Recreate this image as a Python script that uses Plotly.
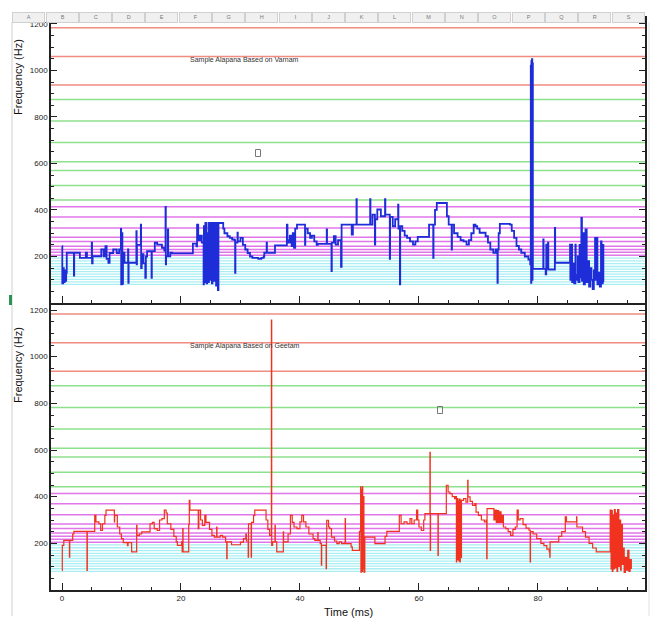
import plotly.graph_objects as go

# ---------------- data ----------------
# Reference (swara) frequency lines in Hz, grouped by colour band
red_lines = [1183, 1060, 937]
green_lines = [875, 782, 690, 607, 570, 505, 443]
magenta_lines = [414, 370, 322, 283, 264, 244, 230, 218, 205]
cyan_lines = [193, 181, 169, 157, 146, 135, 124, 113, 102, 91, 80]

# Varnam-based alapana (top, blue): time (ms) and pitch (Hz)
varnam_t = [0.0, 0.05, 0.2, 0.3, 0.45, 0.55, 0.7, 0.8, 2.0, 2.05, 3.0, 4.0, 4.2, 5.0, 5.05, 5.15,
            6.0, 6.6, 7.0, 7.3, 7.5, 7.8, 8.0, 8.6, 9.2, 9.6, 9.9, 9.95, 10.05, 10.15, 10.25, 10.5,
            11.1, 11.15, 11.2, 12.0, 12.5, 12.55, 12.6, 13.25, 13.3, 13.4, 13.7, 14.0, 14.1, 14.3,
            15.05, 15.1, 15.6, 16.0, 16.8, 17.2, 17.4, 17.45, 17.5, 17.8, 17.85, 18.2, 18.5, 21.5,
            22.0, 22.6, 22.7, 22.9, 23.2, 23.5, 23.8, 23.85, 24.0, 24.1, 24.3, 24.4, 24.6, 24.7,
            24.9, 25.0, 25.2, 25.3, 25.5, 25.6, 25.9, 26.0, 26.2, 26.3, 27.1, 27.3, 27.8, 28.2,
            28.6, 29.0, 29.1, 29.15, 29.5, 29.55, 30.0, 30.4, 30.8, 31.2, 31.6, 32.0, 33.0, 33.5,
            33.9, 34.0, 34.4, 34.45, 35.8, 37.8, 37.9, 38.1, 38.3, 38.6, 38.8, 39.0, 39.2, 39.5,
            40.8, 40.85, 40.9, 41.3, 41.7, 42.0, 42.4, 42.8, 43.0, 44.0, 44.5, 44.55, 45.3, 45.35,
            45.7, 46.0, 46.4, 46.9, 47.0, 48.7, 48.9, 49.5, 49.55, 51.8, 51.85, 52.2, 52.6, 52.65,
            53.0, 53.6, 54.3, 54.35, 55.1, 55.15, 55.6, 56.0, 56.5, 56.55, 56.8, 56.85, 57.2, 57.6,
            58.0, 58.5, 59.0, 59.4, 59.8, 61.6, 61.7, 62.4, 62.45, 62.7, 63.0, 64.4, 64.7, 65.0,
            65.5, 65.55, 65.9, 66.5, 67.0, 67.5, 68.0, 68.4, 68.8, 69.2, 69.5, 69.8, 70.2, 70.8,
            71.2, 71.6, 72.0, 72.5, 72.9, 73.2, 73.25, 73.4, 73.6, 75.3, 75.6, 76.0, 76.4, 76.8,
            77.2, 77.8, 78.4, 78.7, 78.8, 78.85, 78.9, 78.95, 79.0, 79.05, 79.1, 79.15, 79.3, 80.9,
            80.95, 81.3, 81.4, 81.45, 81.7, 81.75, 82.0, 82.8, 82.85, 82.9, 85.4, 85.45, 85.7, 85.75,
            86.0, 86.1, 86.3, 86.35, 86.6, 86.7, 86.8, 87.0, 87.2, 87.3, 87.4, 87.6, 87.7, 87.9,
            88.0, 88.2, 88.4, 88.6, 88.8, 89.0, 89.2, 89.4, 89.6, 89.7, 89.9, 90.0, 90.2, 90.4,
            90.6, 90.7, 90.9, 91.0]
varnam_f = [244, 85, 150, 90, 140, 95, 130, 216, 118, 216, 194, 216, 194, 259, 170, 201,
            201, 230, 201, 244, 190, 173, 215, 230, 215, 230, 319, 80, 300, 82, 216, 173,
            230, 87, 173, 173, 309, 166, 250, 337, 150, 210, 170, 108, 200, 223,
            108, 223, 259, 251, 237, 225, 413, 166, 201, 316, 201, 216, 213, 213,
            255, 244, 337, 270, 290, 260, 80, 330, 90, 344, 85, 300, 90, 344,
            100, 344, 85, 344, 95, 344, 75, 344, 55, 344, 320, 300, 287, 280,
            273, 270, 130, 260, 302, 265, 280, 250, 230, 215, 200, 194, 190, 194,
            200, 216, 259, 216, 248, 337, 270, 260, 290, 245, 300, 237, 320, 337,
            337, 250, 320, 300, 280, 290, 265, 250, 254, 254, 316, 254, 137, 260,
            287, 251, 270, 155, 337, 294, 337, 447, 337, 447, 337, 380, 251, 360,
            402, 373, 447, 380, 190, 370, 330, 360, 423, 320, 80, 330, 310, 290,
            280, 265, 251, 265, 284, 284, 337, 194, 337, 400, 430, 430, 373, 337,
            230, 337, 300, 284, 270, 265, 251, 270, 300, 337, 330, 320, 302, 302,
            287, 260, 230, 216, 230, 87, 230, 300, 340, 337, 310, 280, 245, 230,
            216, 200, 187, 166, 1020, 87, 1040, 150, 1048, 100, 1030, 147, 147, 273,
            147, 123, 251, 147, 260, 144, 144, 144, 323, 173, 251, 100, 251, 90,
            170, 85, 251, 120, 100, 200, 90, 250, 110, 366, 95, 300, 80, 200,
            316, 90, 180, 70, 150, 100, 60, 140, 280, 100, 280, 80, 130, 70,
            265, 85, 250, 90]

# Geetam-based alapana (bottom, red): time (ms) and pitch (Hz)
geetam_t = [0.0, 0.05, 0.3, 1.2, 1.25, 1.3, 1.8, 2.0, 4.2, 4.25, 5.3, 5.5, 5.7, 6.2, 6.5, 6.8,
            7.2, 7.4, 8.8, 8.85, 9.3, 9.7, 10.0, 10.3, 11.0, 11.1, 11.7, 12.55, 12.6, 13.0, 13.4,
            14.8, 15.2, 15.5, 16.0, 16.4, 16.8, 17.2, 17.5, 17.7, 18.3, 18.8, 19.2, 19.4, 20.1,
            20.2, 20.3, 20.35, 21.3, 21.4, 21.5, 22.9, 23.0, 23.3, 23.6, 24.0, 24.2, 24.8, 25.2,
            25.6, 26.0, 26.05, 26.6, 27.0, 27.5, 27.7, 27.75, 28.5, 29.5, 30.0, 30.5, 30.9, 31.0,
            31.3, 31.35, 31.8, 31.85, 32.2, 32.4, 34.3, 34.6, 34.9, 35.2, 35.25, 35.4, 35.8, 35.85,
            36.1, 37.2, 37.25, 37.6, 38.0, 38.4, 38.7, 39.0, 39.5, 40.0, 40.3, 40.6, 41.0, 41.5,
            42.2, 42.5, 43.0, 43.05, 43.4, 43.6, 43.65, 44.1, 44.4, 44.45, 44.5, 44.8, 45.0, 45.3,
            45.8, 46.2, 46.6, 47.0, 47.6, 47.65, 48.2, 48.6, 48.8, 50.0, 50.2, 50.25, 50.35, 50.4,
            50.5, 50.55, 50.7, 50.75, 50.9, 52.6, 54.0, 54.3, 54.6, 56.5, 56.7, 57.0, 57.5, 58.0,
            58.5, 58.8, 59.2, 59.6, 59.8, 60.0, 60.4, 60.8, 61.0, 61.8, 61.85, 61.9, 61.95, 63.2,
            63.25, 64.4, 64.6, 64.9, 65.2, 65.6, 66.0, 66.2, 66.3, 66.35, 66.5, 66.55, 66.7, 66.75,
            66.9, 66.95, 67.1, 67.15, 67.5, 67.9, 68.2, 68.25, 68.6, 69.0, 69.4, 69.6, 70.0, 70.5,
            71.0, 71.3, 71.4, 71.45, 72.5, 72.6, 72.8, 73.0, 73.2, 73.4, 73.6, 73.8, 74.0, 74.2,
            74.6, 75.0, 75.4, 75.8, 76.2, 76.5, 76.7, 77.0, 77.5, 78.0, 78.5, 78.7, 78.75, 79.2,
            79.8, 80.5, 81.0, 81.5, 81.9, 82.0, 82.05, 82.8, 83.5, 84.0, 84.6, 84.8, 85.5, 86.5,
            86.55, 87.0, 87.5, 88.0, 88.6, 89.2, 89.8, 92.1, 92.15, 92.3, 92.35, 92.5, 92.6, 92.8,
            92.85, 93.0, 93.1, 93.3, 93.4, 93.6, 93.7, 93.9, 94.0, 94.2, 94.3, 94.5, 94.7, 94.9,
            95.1, 95.3, 95.5, 95.7]
geetam_f = [84, 191, 213, 213, 141, 213, 240, 251, 84, 251, 251, 320, 292, 284, 255, 284,
            320, 342, 292, 320, 270, 240, 220, 203, 190, 203, 163, 277, 234, 240, 249,
            284, 290, 263, 255, 300, 306, 342, 330, 284, 260, 230, 206, 191, 206,
            163, 263, 163, 280, 384, 342, 263, 342, 300, 277, 320, 290, 260, 234,
            227, 270, 227, 234, 227, 206, 134, 206, 194, 194, 205, 220, 240, 210,
            141, 284, 141, 290, 320, 342, 300, 260, 234, 1157, 191, 206, 277, 206,
            163, 249, 206, 206, 240, 320, 290, 270, 263, 292, 320, 292, 270, 240,
            220, 213, 246, 213, 199, 106, 191, 191, 91, 220, 299, 270, 263, 227,
            210, 199, 206, 199, 306, 199, 199, 185, 170, 251, 442, 77, 430, 80,
            442, 90, 400, 77, 227, 199, 199, 230, 251, 251, 320, 284, 292, 284,
            306, 284, 300, 342, 300, 270, 255, 300, 327, 327, 590, 170, 327, 148,
            327, 327, 449, 420, 413, 400, 392, 400, 120, 392, 130, 380, 125, 390,
            120, 385, 140, 384, 392, 377, 470, 399, 380, 363, 370, 334, 320, 300,
            292, 300, 134, 349, 349, 300, 342, 290, 340, 290, 335, 290, 320, 270,
            263, 250, 234, 260, 270, 342, 300, 306, 280, 265, 256, 120, 250, 240,
            220, 200, 190, 175, 163, 141, 206, 206, 230, 250, 313, 292, 292, 313,
            270, 270, 250, 227, 200, 180, 163, 163, 342, 90, 340, 80, 320, 90, 345,
            95, 330, 80, 345, 100, 300, 85, 280, 110, 180, 75, 140, 85, 170,
            80, 130, 90, 150]

y_ticks = [200, 400, 600, 800, 1000, 1200]
x_ticks = [0, 20, 40, 60, 80]
header_letters = ["A", "B", "C", "D", "E", "F", "G", "H", "I", "J", "K", "L", "M", "N", "O", "P", "Q", "R", "S"]

# ---------------- figure ----------------
W, H = 652, 619
def py(px):  # pixel row -> paper y
    return 1 - px / H
def pxx(px):
    return px / W

fig = go.Figure()
fig.add_trace(go.Scatter(x=varnam_t, y=varnam_f, mode="lines", line=dict(color="rgb(30,45,215)", width=1.8, shape="hv"),
                         xaxis="x", yaxis="y", showlegend=False, hoverinfo="skip"))
fig.add_trace(go.Scatter(x=geetam_t, y=geetam_f, mode="lines", line=dict(color="rgb(240,50,30)", width=1.2, shape="hv"),
                         xaxis="x2", yaxis="y2", showlegend=False, hoverinfo="skip"))

shapes = []
bands = [(red_lines, "rgb(240,140,128)", 1.5), (green_lines, "rgb(140,225,140)", 1.5),
         (magenta_lines, "rgb(224,118,234)", 1.5), (cyan_lines, "rgb(168,238,242)", 1.3)]
for xr, yr in (("x domain", "y"), ("x2 domain", "y2")):
    for vals, col, w in bands:
        for v in vals:
            shapes.append(dict(type="line", xref=xr, yref=yr, x0=0, x1=1, y0=v, y1=v,
                               line=dict(color=col, width=w), layer="below"))

# spreadsheet chrome
shapes.append(dict(type="rect", xref="paper", yref="paper", x0=0, x1=1, y0=py(12), y1=1,
                   fillcolor="white", line=dict(width=0), layer="above"))
shapes.append(dict(type="line", xref="paper", yref="paper", x0=pxx(12), x1=pxx(12), y0=py(616), y1=py(22),
                   line=dict(color="rgb(215,215,215)", width=1.2), layer="above"))
shapes.append(dict(type="rect", xref="paper", yref="paper", x0=pxx(9), x1=pxx(12), y0=py(305), y1=py(295),
                   fillcolor="rgb(40,150,80)", line=dict(width=0), layer="above"))
shapes.append(dict(type="line", xref="paper", yref="paper", x0=pxx(649), x1=pxx(649), y0=py(616), y1=py(22),
                   line=dict(color="rgb(225,225,225)", width=1), layer="above"))
for (cx, cy) in ((258, 153), (440, 410)):
    shapes.append(dict(type="rect", xref="paper", yref="paper", x0=pxx(cx - 2.5), x1=pxx(cx + 2.5),
                       y0=py(cy + 3.5), y1=py(cy - 3.5), line=dict(color="rgb(120,120,120)", width=1),
                       fillcolor="rgba(0,0,0,0)", layer="above"))

annotations = []
# column header cells drawn as annotations so they sit above the axis labels
for i, L in enumerate(header_letters):
    annotations.append(dict(text=L, xref="paper", yref="paper", x=pxx(28.7 + i * 33.3), y=py(17.3),
                            xanchor="center", yanchor="middle", width=31.3, height=8.5, borderpad=0,
                            bgcolor="rgb(240,240,240)", bordercolor="rgb(208,208,208)", borderwidth=1,
                            showarrow=False, font=dict(size=5.5, color="rgb(120,120,120)", family="Liberation Sans")))
annotations += [
    dict(text="Sample Alapana Based on Varnam", xref="paper", yref="paper", x=pxx(188), y=py(60.5),
         xanchor="left", yanchor="middle", showarrow=False, font=dict(size=7, color="#333", family="Liberation Sans")),
    dict(text="Sample Alapana Based on Geetam", xref="paper", yref="paper", x=pxx(188), y=py(346),
         xanchor="left", yanchor="middle", showarrow=False, font=dict(size=7, color="#333", family="Liberation Sans")),
    dict(text="Frequency (Hz)", xref="paper", yref="paper", x=pxx(18), y=py(77), textangle=-90,
         xanchor="center", yanchor="middle",
         showarrow=False, font=dict(size=11, color="#111", family="Liberation Sans")),
    dict(text="Frequency (Hz)", xref="paper", yref="paper", x=pxx(18), y=py(365), textangle=-90,
         xanchor="center", yanchor="middle",
         showarrow=False, font=dict(size=11, color="#111", family="Liberation Sans")),
    dict(text="Time (ms)", xref="paper", yref="paper", x=pxx(348), y=py(612),
         xanchor="center", yanchor="middle",
         showarrow=False, font=dict(size=11, color="#111", family="Liberation Sans")),
]

xr = [-1.85, 98.0]
common_x = dict(range=xr, domain=[pxx(51), pxx(645)], showgrid=False, zeroline=False, showline=True,
                linecolor="#222", linewidth=1.5, ticks="inside", ticklen=7, tickwidth=1.2, tickcolor="#222",
                tickvals=x_ticks, minor=dict(ticks="inside", ticklen=3, dtick=5, tickcolor="#222", tick0=0),
                tickfont=dict(size=8, color="#222", family="Liberation Sans"))
common_y = dict(showgrid=False, zeroline=False, showline=True, linecolor="#222", linewidth=1.5,
                ticks="inside", ticklen=6, tickwidth=1.2, tickcolor="#222", tickvals=y_ticks, mirror="ticks",
                minor=dict(ticks="inside", ticklen=3, dtick=50, tickcolor="#222", tick0=0),
                tickfont=dict(size=8, color="#222", family="Liberation Sans"))

fig.update_layout(
    width=W, height=H, margin=dict(l=0, r=0, t=0, b=0), paper_bgcolor="white", plot_bgcolor="white",
    xaxis=dict(common_x, anchor="y", showticklabels=False),
    yaxis=dict(common_y, range=[0, 1234], domain=[py(303), py(16)], anchor="x"),
    xaxis2=dict(common_x, anchor="y2", showticklabels=True),
    yaxis2=dict(common_y, range=[0, 1230], domain=[py(590), py(303)], anchor="x2"),
    shapes=shapes, annotations=annotations, showlegend=False,
)
fig.write_html("out.html")
